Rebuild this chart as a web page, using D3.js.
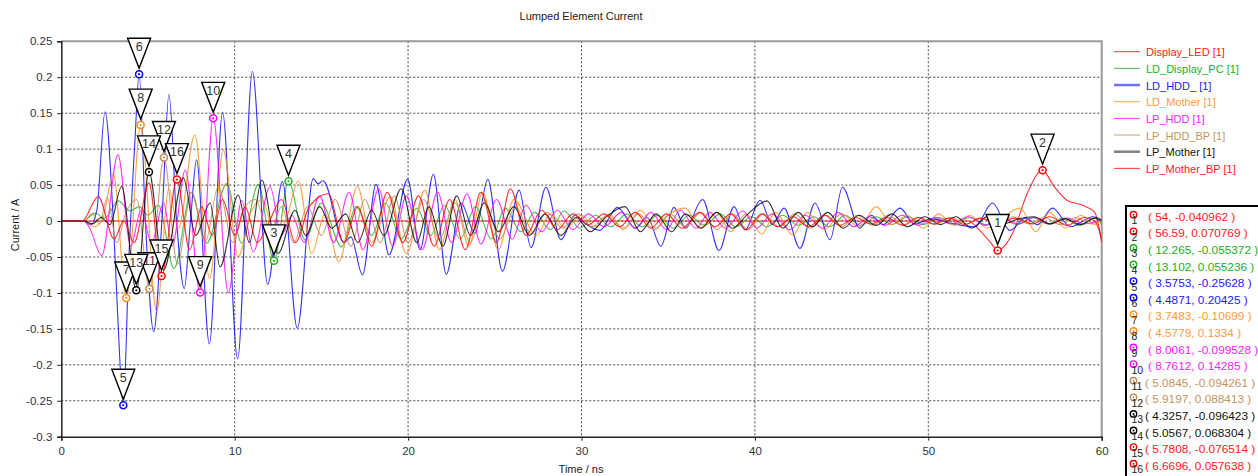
<!DOCTYPE html>
<html>
<head>
<meta charset="utf-8">
<script src="https://d3js.org/d3.v7.min.js"></script>
<style>
  body { margin: 0; background: #fff; }
  svg { display: block; font-family: "Liberation Sans", Arial, sans-serif; }
</style>
</head>
<body>
<svg id="chart" width="1258" height="476"></svg>
<script>
// series names / colours (legend order)
const seriesNames = ['Display_LED [1]', 'LD_Display_PC [1]', 'LD_HDD_ [1]', 'LD_Mother [1]',
    'LP_HDD [1]', 'LP_HDD_BP [1]', 'LP_Mother [1]', 'LP_Mother_BP [1]'];
const seriesColors = ['#ff0000', '#1faf1f', '#0000ff', '#ff8c1a', '#ff00ff', '#c08a55', '#000000', '#ff0000'];
const textColors = ['#ff2020', '#22b022', '#2020ff', '#ff9a3c', '#ff20ff', '#c4935e', '#111111', '#ff2020'];

// time (ns) / current (A) points
const displayLED = [[0, 0], [52.3, 0], [53.0, -0.014], [53.6, -0.03], [54, -0.040962], [54.9, -0.015],
    [55.7, 0.038], [56.59, 0.070769], [57.2, 0.05], [58.0, 0.029], [58.9, 0.022], [59.6, 0.012], [60, -0.03]];

const ldDisplayPC = [[0, 0], [1.27, 0], [1.94, 0.011], [2.5, 0.004], [3.29, 0.028], [3.96, 0.014], [4.5, 0.02],
    [5.0, 0.008], [5.6, 0.022], [6.5, -0.066], [7.5, 0.04], [8.38, -0.031], [9.54, 0.052], [10.4, -0.031],
    [11.36, 0.051], [12.265, -0.055372], [13.102, 0.055236], [14.05, -0.026], [15.0, 0.025], [16.17, -0.036],
    [17.0, 0.02], [17.9, -0.02], [18.7, 0.025], [19.6, -0.025], [20.5, 0.018], [21.3, -0.02], [22.1, 0.022],
    [23.0, -0.025], [23.9, 0.02], [24.8, -0.025], [25.6, 0.018], [26.5, -0.015], [27.3, 0.012], [28.2, -0.012],
    [29.0, 0.014], [29.9, -0.01], [30.8, 0.008], [31.7, -0.008], [32.6, 0.01], [33.5, -0.008], [34.4, 0.008],
    [35.3, -0.01], [36.2, 0.008], [37.1, -0.006], [38.0, 0.01], [38.9, -0.008], [39.8, 0.006], [40.7, -0.008],
    [41.6, 0.008], [42.5, -0.006], [43.4, 0.006], [44.3, -0.008], [45.2, 0.008], [46.1, -0.006], [47.0, 0.006],
    [47.9, -0.005], [48.8, 0.006], [49.7, -0.005], [50.6, 0.005], [51.5, -0.004], [52.4, 0.005], [53.3, -0.005],
    [54.2, 0.004], [55.1, -0.005], [56.0, 0.005], [56.9, -0.004], [57.8, 0.004], [58.7, -0.006], [59.6, 0.004], [60, -0.004]];

const ldHDD = [[0, 0], [1.25, 0], [1.7, -0.005], [2.05, 0.015], [2.52, 0.152], [3.0, 0.0], [3.25, -0.13],
    [3.575, -0.25628], [3.9, -0.05], [4.25, 0.113], [4.4871, 0.20425], [4.85, 0.0], [5.33, -0.154], [5.8, 0.0],
    [6.21, 0.176], [6.65, 0.0], [7.09, -0.094], [7.45, 0.0], [7.8, 0.085], [8.54, -0.171], [9.3, 0.151],
    [10.17, -0.192], [11.02, 0.208], [11.9, -0.088], [12.75, 0.055], [13.61, -0.149], [14.53, 0.059],
    [14.8, 0.052], [15.1, 0.056], [16.3, -0.03], [16.7, -0.022], [17.37, -0.075], [18.15, 0.051], [18.9, -0.047],
    [19.97, 0.058], [20.69, -0.04], [21.46, 0.065], [22.2, -0.074], [23.05, 0.025], [23.86, -0.017], [24.6, 0.058],
    [25.44, -0.07], [26.4, 0.043], [27.09, -0.037], [27.95, 0.047], [28.82, -0.026], [29.6, 0.008], [30.3, -0.005],
    [31.06, -0.013], [32.07, 0.019], [33.1, -0.01], [33.8, 0.005], [34.58, -0.035], [35.33, 0.019], [36.0, -0.01],
    [36.98, 0.03], [37.93, -0.041], [38.8, 0.02], [39.43, -0.0125], [40.3, 0.029], [41.0, -0.005], [41.68, 0.018],
    [42.6, -0.038], [43.47, 0.025], [44.33, -0.026], [45.05, 0.047], [46.05, -0.01], [46.7, 0.008], [47.4, -0.005],
    [48.37, 0.018], [49.2, -0.004], [50.2, 0.003], [51.3, -0.003], [52.7, -0.008], [53.7, 0.025], [54.7, -0.013],
    [55.6, 0.004], [56.3, -0.005], [57.16, 0.018], [58.2, -0.008], [59.5, 0.006], [60, 0.002]];

const ldMother = [[0, 0], [1.3, 0], [1.9, -0.008], [2.4, 0.004], [3.0, 0.066], [3.7483, -0.10699], [4.5779, 0.1334],
    [5.5, -0.126], [6.2, 0.045], [6.75, -0.01], [7.7, 0.12], [8.56, -0.08], [9.34, 0.099], [10.2, -0.05], [10.9, 0.01],
    [11.6, 0.03], [12.3, -0.02], [13.0, 0.005], [13.67, 0.056], [14.44, -0.045], [15.2, 0.01], [16.0, -0.057],
    [17.08, 0.048], [17.9, -0.03], [18.96, 0.034], [19.9, -0.045], [20.97, 0.043], [21.8, -0.04], [22.7, 0.03],
    [23.5, -0.035], [24.3, 0.04], [25.2, -0.04], [26.1, 0.03], [27.4, -0.02], [28.2, 0.01], [29.1, -0.01],
    [30.0, 0.008], [30.8, -0.008], [31.6, 0.01], [32.4, -0.012], [33.4, 0.015], [34.3, -0.01], [35.1, 0.01],
    [36.0, 0.018], [36.8, -0.01], [37.8, 0.012], [38.6, -0.015], [39.5, 0.01], [40.4, -0.018], [41.2, 0.012],
    [42.2, -0.02], [43.0, 0.012], [44.0, -0.012], [45.0, 0.01], [46.0, -0.008], [47.0, 0.02], [47.9, -0.005],
    [48.8, 0.008], [49.7, -0.01], [50.6, 0.01], [51.5, -0.006], [52.4, 0.008], [53.4, -0.01], [54.3, 0.005],
    [55.3, 0.018], [56.2, -0.015], [57.0, 0.012], [57.9, -0.01], [58.8, 0.008], [59.6, -0.005], [60, 0.004]];

const lpHDD = [[0, 0], [1.3, 0], [1.6, -0.008], [2.33, -0.048], [3.27, 0.092], [4.0, -0.035], [4.6, 0.015],
    [5.2, -0.03], [5.9, 0.025], [6.4, -0.035], [7.15, 0.071], [8.0061, -0.099528], [8.7612, 0.14285], [9.63, -0.1],
    [10.4, 0.029], [11.07, -0.043], [12.04, 0.048], [12.7, -0.02], [13.3, 0.008], [14.0, -0.03], [14.9, 0.035],
    [15.7, -0.03], [16.6, 0.04], [17.4, -0.04], [18.3, 0.045], [19.1, -0.035], [19.9, 0.035], [20.8, -0.04],
    [21.7, 0.04], [22.5, -0.03], [23.4, 0.038], [24.2, -0.032], [25.1, 0.03], [26.0, -0.025], [26.8, 0.022],
    [27.7, -0.015], [28.6, 0.015], [29.5, -0.012], [30.4, 0.01], [31.3, -0.008], [32.3, 0.012], [33.1, -0.01],
    [34.0, 0.012], [34.9, -0.012], [35.7, 0.015], [36.6, -0.01], [37.4, 0.012], [38.3, -0.01], [39.3, 0.014],
    [40.1, -0.01], [41.0, 0.01], [42.0, -0.012], [42.9, 0.008], [43.9, -0.01], [44.8, 0.012], [45.7, -0.008],
    [46.6, 0.006], [47.5, -0.006], [48.5, 0.008], [49.4, -0.006], [50.4, 0.005], [51.3, -0.004], [52.3, 0.006],
    [53.3, -0.006], [54.2, 0.004], [55.2, -0.004], [56.1, 0.005], [57.0, -0.004], [58.0, 0.004], [59.0, -0.004], [60, 0.002]];

const lpHDDBP = [[0, 0], [1.3, 0], [1.8, 0.01], [2.2, -0.004], [2.65, 0.033], [3.2, -0.03], [3.7, 0.01], [4.35, 0.03],
    [5.0845, -0.094261], [5.9197, 0.088413], [6.7, -0.06], [7.5, 0.04], [8.3, -0.03], [9.05, 0.048], [9.9, -0.03],
    [10.6, 0.02], [11.2, 0.03], [12.0, -0.02], [12.7, 0.02], [13.4, -0.03], [14.2, 0.02], [15.0, -0.02], [15.8, 0.03],
    [16.7, -0.035], [17.5, 0.03], [18.4, -0.03], [19.2, 0.035], [20.0, -0.03], [20.9, 0.03], [21.8, -0.025],
    [22.7, 0.025], [23.6, -0.03], [24.4, 0.028], [25.3, -0.025], [26.2, 0.02], [27.1, -0.018], [28.0, 0.012],
    [28.9, -0.01], [29.8, 0.01], [30.6, -0.008], [31.5, 0.008], [32.4, -0.01], [33.3, 0.01], [34.2, -0.012],
    [35.1, 0.01], [36.0, -0.008], [36.9, 0.012], [37.8, -0.012], [38.7, 0.01], [39.6, -0.012], [40.5, 0.01],
    [41.4, -0.008], [42.3, 0.01], [43.2, -0.01], [44.1, 0.008], [45.0, -0.008], [45.9, 0.008], [46.8, -0.006],
    [47.7, 0.008], [48.6, -0.006], [49.5, 0.005], [50.4, -0.005], [51.3, 0.005], [52.2, -0.004], [53.1, 0.004],
    [54.0, -0.006], [54.9, 0.006], [55.8, -0.004], [56.7, 0.005], [57.6, -0.005], [58.5, 0.005], [59.4, -0.004], [60, 0.002]];

const lpMother = [[0, 0], [1.3, 0], [1.8, -0.004], [2.3, 0.005], [2.8, -0.005], [3.48, 0.048], [4.3257, -0.096423],
    [5.0567, 0.068304], [5.9, -0.068], [7.04, 0.06], [7.75, -0.02], [8.58, 0.025], [9.15, -0.064], [10.2, 0.036],
    [10.85, -0.03], [11.56, 0.057], [12.5, -0.045], [13.48, 0.015], [14.1, -0.02], [14.9, 0.02], [15.6, -0.01],
    [16.4, 0.01], [17.1, -0.03], [17.9, 0.015], [18.6, -0.02], [19.6, 0.045], [20.5, -0.03], [21.2, 0.02],
    [22.0, -0.035], [22.8, 0.035], [23.6, -0.02], [24.4, 0.025], [25.2, -0.015], [26.1, 0.02], [27.0, -0.02],
    [27.9, 0.01], [28.8, -0.02], [29.7, 0.005], [30.5, -0.015], [31.4, 0.005], [32.5, 0.02], [33.4, -0.015],
    [34.3, 0.01], [35.2, -0.015], [36.0, 0.01], [36.9, -0.01], [37.8, 0.012], [38.7, -0.01], [39.6, 0.01],
    [40.7, 0.028], [41.6, -0.01], [42.5, 0.012], [43.3, -0.008], [44.2, 0.012], [45.1, -0.01], [46.0, 0.008],
    [47.0, -0.006], [47.9, 0.01], [48.8, -0.008], [49.8, 0.006], [50.7, -0.005], [51.6, 0.006], [52.5, -0.01],
    [53.4, 0.006], [54.3, -0.004], [55.2, 0.003], [56.1, 0.006], [57.0, -0.004], [57.9, 0.003], [58.8, -0.005],
    [59.6, 0.004], [60, 0]];

const lpMotherBP = [[0, 0], [1.2, 0], [2.13, 0.034], [3.05, -0.025], [3.6, 0.0], [4.2, -0.03], [5.06, 0.053],
    [5.7808, -0.076514], [6.6696, 0.057638], [7.4, -0.04], [8.1, 0.02], [8.7, -0.02], [9.3, 0.03], [10.0, -0.02],
    [10.6, 0.02], [11.3, -0.03], [12.0, 0.0], [12.7, 0.03], [13.5, -0.03], [14.3, 0.02], [15.4, 0.038],
    [16.3, -0.03], [17.1, 0.02], [17.9, -0.035], [18.8, 0.04], [19.7, -0.03], [20.6, 0.035], [21.5, -0.035],
    [22.4, 0.03], [23.3, -0.04], [24.2, 0.04], [25.1, -0.03], [25.9, 0.045], [26.8, -0.02], [27.7, 0.015],
    [28.6, -0.012], [29.5, 0.01], [30.4, -0.005], [31.3, 0.01], [32.2, -0.008], [33.1, 0.012], [34.0, -0.01],
    [34.9, 0.01], [35.8, -0.01], [36.8, 0.012], [37.7, -0.008], [38.6, 0.01], [39.5, -0.012], [40.4, 0.01],
    [41.3, -0.008], [42.2, 0.006], [43.1, -0.008], [44.0, 0.008], [44.9, -0.006], [45.8, 0.005], [46.7, -0.004],
    [47.6, 0.005], [48.5, -0.006], [49.4, 0.005], [50.3, -0.004], [51.2, 0.004], [52.1, -0.005], [53.0, 0.004],
    [54.0, -0.003], [55.0, 0.004], [56.0, -0.004], [57.0, 0.006], [58.0, -0.006], [59.0, 0.005], [59.6, 0.0], [60, -0.025]];

const seriesData = [displayLED, ldDisplayPC, ldHDD, ldMother, lpHDD, lpHDDBP, lpMother, lpMotherBP];

// markers: series index, time, value
const markerSeries = [0, 0, 1, 1, 2, 2, 3, 3, 4, 4, 5, 5, 6, 6, 7, 7];
const markerT = [54, 56.59, 12.265, 13.102, 3.5753, 4.4871, 3.7483, 4.5779, 8.0061, 8.7612, 5.0845, 5.9197, 4.3257, 5.0567, 5.7808, 6.6696];
const markerV = [-0.040962, 0.070769, -0.055372, 0.055236, -0.25628, 0.20425, -0.10699, 0.1334, -0.099528, 0.14285,
    -0.094261, 0.088413, -0.096423, 0.068304, -0.076514, 0.057638];

const xTicks = [0, 10, 20, 30, 40, 50, 60];
const yTicks = [0.25, 0.2, 0.15, 0.1, 0.05, 0, -0.05, -0.1, -0.15, -0.2, -0.25, -0.3];

const plotLeft = 61.3, plotRight = 1101.7, plotTop = 41.3, plotBottom = 436.7;

const svg = d3.select('#chart');

const x = d3.scaleLinear().domain([0, 60]).range([plotLeft, plotRight]);
const y = d3.scaleLinear().domain([-0.3, 0.25]).range([plotBottom, plotTop]);

// grid
const grid = svg.append('g');
grid.selectAll('line.gx').data(xTicks.slice(1, -1)).enter().append('line')
    .attr('x1', d => x(d)).attr('x2', d => x(d)).attr('y1', plotTop).attr('y2', plotBottom)
    .attr('stroke', '#444').attr('stroke-width', 1).attr('stroke-dasharray', '2,2');
grid.selectAll('line.gy').data(yTicks.slice(1, -1)).enter().append('line')
    .attr('x1', plotLeft).attr('x2', plotRight).attr('y1', d => y(d)).attr('y2', d => y(d))
    .attr('stroke', '#444').attr('stroke-width', 1).attr('stroke-dasharray', '2,2');

// frame (top / right in grey)
svg.append('line').attr('x1', plotLeft).attr('x2', plotRight + 1).attr('y1', plotTop).attr('y2', plotTop)
    .attr('stroke', '#9a9a9a').attr('stroke-width', 2);
svg.append('line').attr('x1', plotRight).attr('x2', plotRight).attr('y1', plotTop).attr('y2', plotBottom)
    .attr('stroke', '#9a9a9a').attr('stroke-width', 2);

// curves
svg.append('clipPath').attr('id', 'plotClip').append('rect')
    .attr('x', plotLeft).attr('y', plotTop).attr('width', plotRight - plotLeft).attr('height', plotBottom - plotTop);

let line = d3.line()
    .x(d => x(d[0]))
    .y(d => y(d[1]))
    .curve(d3.curveMonotoneX);

svg.append('g').attr('clip-path', 'url(#plotClip)')
    .selectAll('path').data(seriesData).enter().append('path')
    .attr('d', line)
    .attr('fill', 'none')
    .attr('stroke', (d, i) => seriesColors[i])
    .attr('stroke-opacity', 0.8)
    .attr('stroke-width', 1.1);

// axes
let yAxis = d3.axisLeft(y).tickValues(yTicks).tickSize(4).tickPadding(5).tickFormat(d => String(d));
let xAxis = d3.axisBottom(x).tickValues(xTicks).tickSize(4).tickPadding(6).tickFormat(d => String(d));

let yGuide = svg.append('g').attr('transform', 'translate(' + plotLeft + ',0)').call(yAxis);
let xGuide = svg.append('g').attr('transform', 'translate(0,' + plotBottom + ')').call(xAxis);
[yGuide, xGuide].forEach(g => {
    g.selectAll('path').attr('stroke', '#222').attr('stroke-width', 1.5);
    g.selectAll('line').attr('stroke', '#222');
    g.selectAll('text').attr('fill', '#333').style('font-size', '11.5px')
        .style('font-family', '"Liberation Sans", Arial, sans-serif');
});

// titles
svg.append('text').attr('x', 581).attr('y', 20).attr('text-anchor', 'middle')
    .attr('fill', '#222').style('font-size', '11px').text('Lumped Element Current');
svg.append('text').attr('x', 581).attr('y', 473).attr('text-anchor', 'middle')
    .attr('fill', '#222').style('font-size', '11px').text('Time / ns');
svg.append('text').attr('transform', 'translate(18.5,225) rotate(-90)').attr('text-anchor', 'middle')
    .attr('fill', '#222').style('font-size', '11px').text('Current / A');

// markers on the curves
let markers = svg.append('g').selectAll('g').data(markerT).enter().append('g');
markers.append('circle')
    .attr('cx', (d, i) => x(markerT[i])).attr('cy', (d, i) => y(markerV[i])).attr('r', 3.5)
    .attr('fill', '#fff').attr('stroke', (d, i) => seriesColors[markerSeries[i]]).attr('stroke-width', 1.5);
markers.append('circle')
    .attr('cx', (d, i) => x(markerT[i])).attr('cy', (d, i) => y(markerV[i])).attr('r', 1.1)
    .attr('fill', (d, i) => seriesColors[markerSeries[i]]);
markers.append('path')
    .attr('d', (d, i) => {
        let cx = x(markerT[i]), apex = y(markerV[i]) - 6, topY = apex - 30;
        return 'M' + (cx - 11.5) + ',' + topY + 'L' + (cx + 11.5) + ',' + topY + 'L' + cx + ',' + apex + 'Z';
    })
    .attr('fill', '#fff').attr('stroke', '#000').attr('stroke-width', 1.4).attr('stroke-linejoin', 'miter');
markers.append('text')
    .attr('x', (d, i) => x(markerT[i])).attr('y', (d, i) => y(markerV[i]) - 36 + 12.5)
    .attr('text-anchor', 'middle').attr('fill', '#333').style('font-size', '12.5px')
    .text((d, i) => i + 1);

// legend
let legend = svg.append('g').selectAll('g').data(seriesNames).enter().append('g')
    .attr('transform', (d, i) => 'translate(0,' + (51.7 + i * 16.67) + ')');
legend.append('line').attr('x1', 1114).attr('x2', 1140).attr('y1', 0).attr('y2', 0)
    .attr('stroke', (d, i) => i === 2 ? '#6f6fff' : i === 6 ? '#808080' : seriesColors[i])
    .attr('stroke-width', (d, i) => (i === 2 || i === 6) ? 2.5 : 1)
    .attr('stroke-opacity', (d, i) => (i === 2 || i === 6) ? 1 : 0.8);
legend.append('text').attr('x', 1146).attr('y', 4.5)
    .attr('fill', (d, i) => textColors[i]).style('font-size', '11px').text(d => d);

// marker readout box
svg.append('rect').attr('x', 1126).attr('y', 206).attr('width', 200).attr('height', 300)
    .attr('fill', '#fff').attr('stroke', '#000').attr('stroke-width', 2);
let rows = svg.append('g').selectAll('g').data(markerT).enter().append('g')
    .attr('transform', (d, i) => 'translate(0,' + (216.2 + i * 16.6) + ')');
rows.append('circle').attr('cx', 1133.5).attr('cy', -1.5).attr('r', 3.2)
    .attr('fill', '#fff').attr('stroke', (d, i) => seriesColors[markerSeries[i]]).attr('stroke-width', 1.4);
rows.append('circle').attr('cx', 1133.5).attr('cy', -1.5).attr('r', 1)
    .attr('fill', (d, i) => seriesColors[markerSeries[i]]);
rows.append('text').attr('x', 1131.5).attr('y', 8).attr('fill', '#222').style('font-size', '10.5px')
    .text((d, i) => i + 1);
rows.append('text').attr('x', (d, i) => i < 10 ? 1148 : 1145).attr('y', 4.5)
    .attr('fill', (d, i) => textColors[markerSeries[i]]).style('font-size', '11.8px')
    .text((d, i) => '( ' + markerT[i] + ', ' + markerV[i] + ' )');
</script>
</body>
</html>
